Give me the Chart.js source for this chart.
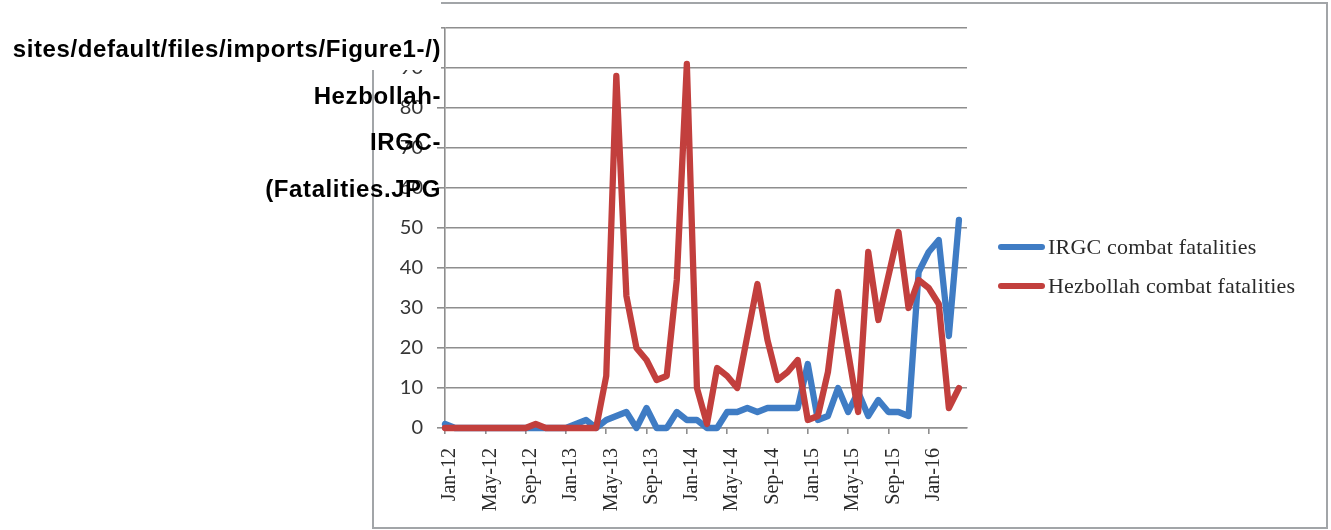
<!DOCTYPE html>
<html>
<head>
<meta charset="utf-8">
<script src="https://cdn.jsdelivr.net/npm/chart.js@4.4.1/dist/chart.umd.min.js"></script>
<style>
  html, body { margin:0; padding:0; background:#fff; }
  body { width:1331px; height:530px; overflow:hidden; position:relative; }
  #frame { position:absolute; left:372px; top:2px; width:956px; height:527px; box-sizing:border-box; border:2px solid #a2a5a8; }
  #c { position:absolute; left:0; top:0; }
  #mask { position:absolute; left:0; top:0; width:441px; height:70px; background:#fff; }
  #alt { position:absolute; left:0; top:26px; width:441px; text-align:right; font:bold 24px "Liberation Sans", Arial, sans-serif; letter-spacing:0.6px; line-height:46.5px; color:#000; white-space:nowrap; }
  #legend { position:absolute; left:998px; top:228px; }
  .row { height:38.5px; display:flex; align-items:center; }
  .swatch { width:47px; height:6px; border-radius:3px; margin-right:3px; }
  .txt { font:22px "Liberation Serif", serif; color:#2a2a2a; white-space:nowrap; letter-spacing:0.2px; }
</style>
</head>
<body>
<div id="frame"></div>
<canvas id="c" width="1331" height="530"></canvas>
<div id="mask"></div>
<div id="alt">sites/default/files/imports/Figure1-/)<br>Hezbollah-<br>IRGC-<br>(Fatalities.JPG</div>
<div id="legend"></div>
<script>
// ---- data ----
const months = [
  'Jan-12','Feb-12','Mar-12','Apr-12','May-12','Jun-12','Jul-12','Aug-12','Sep-12','Oct-12','Nov-12','Dec-12',
  'Jan-13','Feb-13','Mar-13','Apr-13','May-13','Jun-13','Jul-13','Aug-13','Sep-13','Oct-13','Nov-13','Dec-13',
  'Jan-14','Feb-14','Mar-14','Apr-14','May-14','Jun-14','Jul-14','Aug-14','Sep-14','Oct-14','Nov-14','Dec-14',
  'Jan-15','Feb-15','Mar-15','Apr-15','May-15','Jun-15','Jul-15','Aug-15','Sep-15','Oct-15','Nov-15','Dec-15',
  'Jan-16','Feb-16','Mar-16','Apr-16'
];
const irgc = [
  1,0,0,0,0,0,0,0,0,0,0,0,
  0,1,2,0,2,3,4,0,5,0,0,4,
  2,2,0,0,4,4,5,4,5,5,5,5,
  16,2,3,10,4,9,3,7,4,4,3,39,
  44,47,23,52
];
const hezbollah = [
  0,0,0,0,0,0,0,0,0,1,0,0,
  0,0,0,0,13,88,33,20,17,12,13,37,
  91,10,1,15,13,10,23,36,22,12,14,17,
  2,3,14,34,19,4,44,27,38,49,30,37,
  35,31,5,10
];
const seriesNames = ['IRGC combat fatalities', 'Hezbollah combat fatalities'];
const seriesColors = ['#3f7cc4', '#c23f3d'];
const yTickValues = [0,10,20,30,40,50,60,70,80,90,100];
const xTickEvery = 4;

// ---- layout ----
const PLOT = { left:445, right:967, top:28, bottom:428, W:1331, H:530 };
const X_END_PAD = 0.8;              // axis runs a little past the last month
const gridColor = '#8e8e8e';
const catStep = (PLOT.right - PLOT.left) / (months.length - 1 + X_END_PAD);
const xTickIdx = months.map((m,i)=>i).filter(i => i % xTickEvery === 0);

const lineStyle = { borderWidth:6.3, pointRadius:0, tension:0, borderJoinStyle:'round', borderCapStyle:'round', fill:false, clip:12 };

new Chart(document.getElementById('c'), {
  type: 'line',
  data: {
    datasets: [
      Object.assign({ label: seriesNames[0], data: irgc.map((v,i)=>({x:i, y:v})), borderColor: seriesColors[0], backgroundColor: seriesColors[0], order: 1 }, lineStyle),
      Object.assign({ label: seriesNames[1], data: hezbollah.map((v,i)=>({x:i, y:v})), borderColor: seriesColors[1], backgroundColor: seriesColors[1], order: 0 }, lineStyle)
    ]
  },
  options: {
    responsive: false,
    animation: false,
    devicePixelRatio: 1,
    layout: { padding: { left:0, top:PLOT.top, right:PLOT.W - PLOT.right, bottom:0 } },
    plugins: { legend: { display:false }, tooltip: { enabled:false } },
    scales: {
      x: {
        type: 'linear',
        min: 0,
        max: months.length - 1 + X_END_PAD,
        afterBuildTicks: s => { s.ticks = xTickIdx.map(i => ({ value: i })); },
        afterFit: s => { s.height = PLOT.H - PLOT.bottom; },
        ticks: {
          autoSkip: false, minRotation: 90, maxRotation: 90, padding: 14,
          labelOffset: catStep / 2,
          font: { family: '"Liberation Serif", serif', size: 20 },
          color: '#2a2a2a',
          callback: v => months[Math.round(v)]
        },
        grid: { drawOnChartArea: false, drawTicks: true, tickLength: 6, color: gridColor, lineWidth: 1.6 },
        border: { display: true, color: gridColor, width: 1.6 }
      },
      y: {
        min: 0, max: 100,
        afterBuildTicks: s => { s.ticks = yTickValues.map(v => ({ value: v })); },
        afterFit: s => { s.width = PLOT.left; },
        ticks: { padding: 14, font: { family: 'Lato, sans-serif', size: 20 }, color: '#363636' },
        grid: { color: gridColor, lineWidth: 1.6, tickLength: 8 },
        border: { display: true, color: gridColor, width: 1.6 }
      }
    }
  }
});

// ---- legend ----
const legend = document.getElementById('legend');
seriesNames.forEach((name, k) => {
  const row = document.createElement('div'); row.className = 'row';
  const sw = document.createElement('span'); sw.className = 'swatch'; sw.style.background = seriesColors[k];
  const tx = document.createElement('span'); tx.className = 'txt'; tx.textContent = name;
  row.appendChild(sw); row.appendChild(tx); legend.appendChild(row);
});
</script>
</body>
</html>
